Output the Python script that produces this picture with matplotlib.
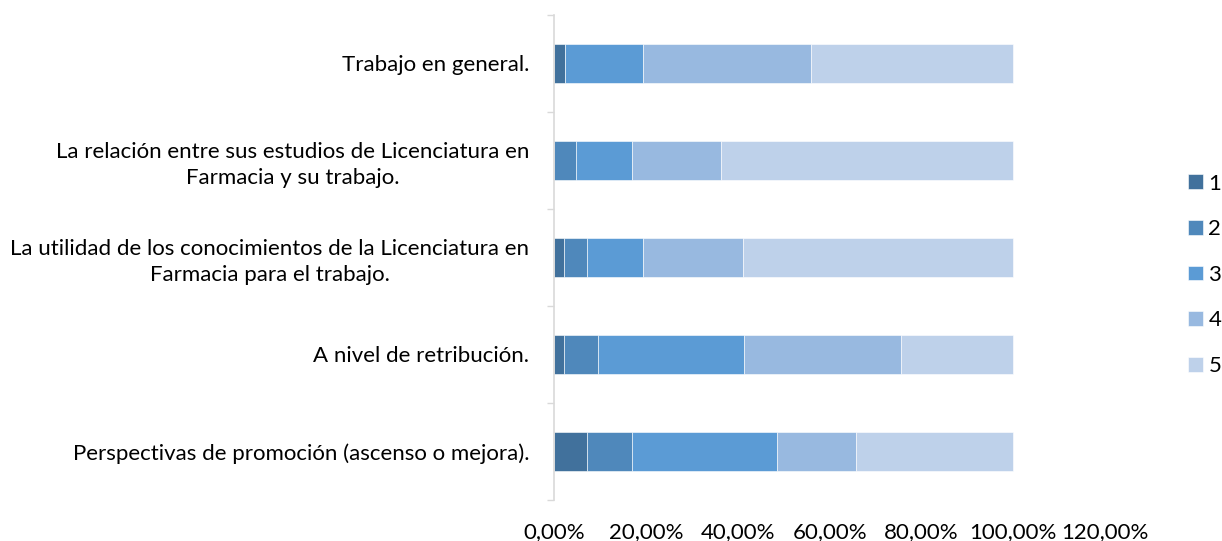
import matplotlib.pyplot as plt
from matplotlib.ticker import FuncFormatter, FixedLocator
import numpy as np

categories = [
    "Perspectivas de promoción (ascenso o mejora).",
    "A nivel de retribución.",
    "La utilidad de los conocimientos de la Licenciatura en\nFarmacia para el trabajo.",
    "La relación entre sus estudios de Licenciatura en\nFarmacia y su trabajo.",
    "Trabajo en general.",
]
levels = ["1", "2", "3", "4", "5"]

# share (%) of answers per level, one list per level, same order as categories
level_1 = [7.2, 2.1, 2.1, 0.0, 2.4]
level_2 = [9.7, 7.5, 5.1, 4.8, 0.0]
level_3 = [31.6, 31.7, 12.1, 12.1, 17.0]
level_4 = [17.3, 34.2, 21.9, 19.4, 36.6]
level_5 = [34.2, 24.5, 58.8, 63.7, 44.0]

colors = ["#41719C", "#4F88BB", "#5B9BD5", "#98B9E0", "#BED1EA"]

plt.rcParams["font.family"] = ["Lato", "DejaVu Sans"]
fs = 16

fig = plt.figure(figsize=(12.22, 5.41), dpi=100)
ax = fig.add_axes([0.4536, 0.0758, 0.4507, 0.8965])

y = np.arange(len(categories))
left = np.zeros(len(categories))
for name, vals, c in zip(levels, [level_1, level_2, level_3, level_4, level_5], colors):
    ax.barh(y, vals, left=left, height=0.4, color=c, label=name,
            edgecolor="white", linewidth=0.4)
    left += np.array(vals)

ax.set_xlim(0, 120)
ax.set_ylim(-0.5, len(categories) - 0.5)
ax.set_xticks(np.arange(0, 121, 20))
ax.xaxis.set_major_formatter(FuncFormatter(lambda v, p: f"{v:.2f}%".replace(".", ",")))
ax.set_yticks(y)
ax.set_yticklabels(categories)
for lbl in ax.get_yticklabels():
    lbl.set_multialignment("center")
    lbl.set_linespacing(1.35)
ax.yaxis.set_minor_locator(FixedLocator(np.arange(-0.5, len(categories), 1.0)))

ax.tick_params(axis="y", which="major", length=0, pad=18, labelsize=fs, colors="#000000")
ax.tick_params(axis="y", which="minor", length=5, width=1, color="#D9D9D9")
ax.tick_params(axis="x", length=0, pad=16, labelsize=fs)

for s in ["top", "right", "bottom"]:
    ax.spines[s].set_visible(False)
ax.spines["left"].set_color("#D9D9D9")
ax.spines["left"].set_linewidth(1.2)

ax.legend(loc="center left", bbox_to_anchor=(0.9725, 0.492), bbox_transform=fig.transFigure,
          frameon=False, fontsize=fs, handlelength=0.65, handleheight=0.65,
          handletextpad=0.25, labelspacing=1.15, borderaxespad=0, borderpad=0)

fig.savefig("out.png", dpi=100)
